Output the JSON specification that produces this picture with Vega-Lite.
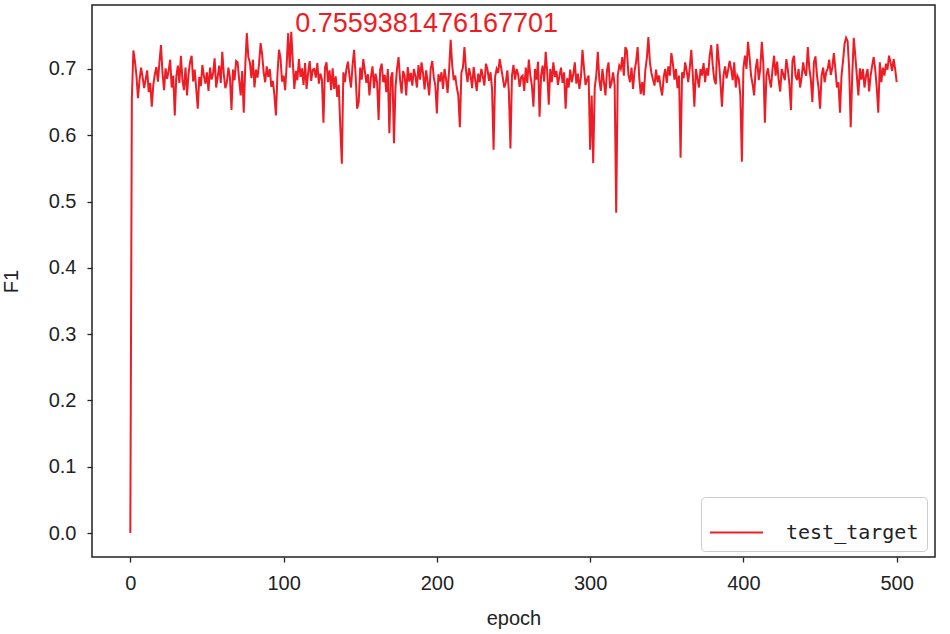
{
  "$schema": "https://vega.github.io/schema/vega-lite/v6.json",
  "width": 843,
  "height": 552,
  "autosize": {"type": "none"},
  "padding": {"left": 92, "top": 5, "right": 15, "bottom": 77},
  "background": "white",
  "config": {
    "view": {"stroke": "#222", "strokeWidth": 1.5},
    "axis": {
      "grid": false,
      "domain": false,
      "tickColor": "#222",
      "tickWidth": 1.3,
      "tickSize": 5,
      "labelFont": "Liberation Sans",
      "labelFontSize": 20,
      "labelColor": "#222",
      "titleFont": "Liberation Sans",
      "titleFontSize": 20,
      "titleFontWeight": "normal",
      "titleColor": "#222"
    },
    "legend": {
      "labelFont": "DejaVu Sans Mono",
      "labelFontSize": 20,
      "labelColor": "#222"
    }
  },
  "layer": [
    {
      "data": {"values": [
{"epoch":0,"f1":0.000},{"epoch":1,"f1":0.655},{"epoch":2,"f1":0.728},{"epoch":3,"f1":0.712},{"epoch":4,"f1":0.690},{"epoch":5,"f1":0.656},{"epoch":6,"f1":0.683},{"epoch":7,"f1":0.702},{"epoch":8,"f1":0.688},{"epoch":9,"f1":0.671},
{"epoch":10,"f1":0.684},{"epoch":11,"f1":0.698},{"epoch":12,"f1":0.665},{"epoch":13,"f1":0.679},{"epoch":14,"f1":0.643},{"epoch":15,"f1":0.676},{"epoch":16,"f1":0.692},{"epoch":17,"f1":0.703},{"epoch":18,"f1":0.681},{"epoch":19,"f1":0.710},
{"epoch":20,"f1":0.736},{"epoch":21,"f1":0.694},{"epoch":22,"f1":0.668},{"epoch":23,"f1":0.701},{"epoch":24,"f1":0.685},{"epoch":25,"f1":0.697},{"epoch":26,"f1":0.714},{"epoch":27,"f1":0.672},{"epoch":28,"f1":0.690},{"epoch":29,"f1":0.630},
{"epoch":30,"f1":0.688},{"epoch":31,"f1":0.705},{"epoch":32,"f1":0.679},{"epoch":33,"f1":0.720},{"epoch":34,"f1":0.684},{"epoch":35,"f1":0.668},{"epoch":36,"f1":0.702},{"epoch":37,"f1":0.660},{"epoch":38,"f1":0.693},{"epoch":39,"f1":0.711},
{"epoch":40,"f1":0.720},{"epoch":41,"f1":0.681},{"epoch":42,"f1":0.699},{"epoch":43,"f1":0.670},{"epoch":44,"f1":0.640},{"epoch":45,"f1":0.688},{"epoch":46,"f1":0.674},{"epoch":47,"f1":0.706},{"epoch":48,"f1":0.690},{"epoch":49,"f1":0.678},
{"epoch":50,"f1":0.695},{"epoch":51,"f1":0.667},{"epoch":52,"f1":0.702},{"epoch":53,"f1":0.684},{"epoch":54,"f1":0.693},{"epoch":55,"f1":0.716},{"epoch":56,"f1":0.672},{"epoch":57,"f1":0.688},{"epoch":58,"f1":0.705},{"epoch":59,"f1":0.679},
{"epoch":60,"f1":0.726},{"epoch":61,"f1":0.692},{"epoch":62,"f1":0.671},{"epoch":63,"f1":0.680},{"epoch":64,"f1":0.702},{"epoch":65,"f1":0.687},{"epoch":66,"f1":0.638},{"epoch":67,"f1":0.699},{"epoch":68,"f1":0.683},{"epoch":69,"f1":0.712},
{"epoch":70,"f1":0.710},{"epoch":71,"f1":0.684},{"epoch":72,"f1":0.660},{"epoch":73,"f1":0.697},{"epoch":74,"f1":0.634},{"epoch":75,"f1":0.705},{"epoch":76,"f1":0.754},{"epoch":77,"f1":0.718},{"epoch":78,"f1":0.710},{"epoch":79,"f1":0.686},
{"epoch":80,"f1":0.714},{"epoch":81,"f1":0.672},{"epoch":82,"f1":0.699},{"epoch":83,"f1":0.687},{"epoch":84,"f1":0.708},{"epoch":85,"f1":0.739},{"epoch":86,"f1":0.722},{"epoch":87,"f1":0.695},{"epoch":88,"f1":0.680},{"epoch":89,"f1":0.704},
{"epoch":90,"f1":0.688},{"epoch":91,"f1":0.700},{"epoch":92,"f1":0.673},{"epoch":93,"f1":0.682},{"epoch":94,"f1":0.661},{"epoch":95,"f1":0.630},{"epoch":96,"f1":0.692},{"epoch":97,"f1":0.729},{"epoch":98,"f1":0.716},{"epoch":99,"f1":0.681},
{"epoch":100,"f1":0.690},{"epoch":101,"f1":0.668},{"epoch":102,"f1":0.706},{"epoch":103,"f1":0.754},{"epoch":104,"f1":0.702},{"epoch":105,"f1":0.7559381476167701},{"epoch":106,"f1":0.711},{"epoch":107,"f1":0.670},{"epoch":108,"f1":0.697},{"epoch":109,"f1":0.683},
{"epoch":110,"f1":0.715},{"epoch":111,"f1":0.688},{"epoch":112,"f1":0.701},{"epoch":113,"f1":0.676},{"epoch":114,"f1":0.709},{"epoch":115,"f1":0.670},{"epoch":116,"f1":0.694},{"epoch":117,"f1":0.712},{"epoch":118,"f1":0.682},{"epoch":119,"f1":0.699},
{"epoch":120,"f1":0.700},{"epoch":121,"f1":0.687},{"epoch":122,"f1":0.709},{"epoch":123,"f1":0.678},{"epoch":124,"f1":0.693},{"epoch":125,"f1":0.684},{"epoch":126,"f1":0.619},{"epoch":127,"f1":0.702},{"epoch":128,"f1":0.710},{"epoch":129,"f1":0.680},
{"epoch":130,"f1":0.698},{"epoch":131,"f1":0.668},{"epoch":132,"f1":0.701},{"epoch":133,"f1":0.670},{"epoch":134,"f1":0.689},{"epoch":135,"f1":0.658},{"epoch":136,"f1":0.676},{"epoch":137,"f1":0.612},{"epoch":138,"f1":0.557},{"epoch":139,"f1":0.695},
{"epoch":140,"f1":0.680},{"epoch":141,"f1":0.700},{"epoch":142,"f1":0.711},{"epoch":143,"f1":0.689},{"epoch":144,"f1":0.672},{"epoch":145,"f1":0.706},{"epoch":146,"f1":0.729},{"epoch":147,"f1":0.690},{"epoch":148,"f1":0.640},{"epoch":149,"f1":0.650},
{"epoch":150,"f1":0.702},{"epoch":151,"f1":0.684},{"epoch":152,"f1":0.715},{"epoch":153,"f1":0.697},{"epoch":154,"f1":0.679},{"epoch":155,"f1":0.692},{"epoch":156,"f1":0.660},{"epoch":157,"f1":0.688},{"epoch":158,"f1":0.704},{"epoch":159,"f1":0.671},
{"epoch":160,"f1":0.693},{"epoch":161,"f1":0.680},{"epoch":162,"f1":0.623},{"epoch":163,"f1":0.699},{"epoch":164,"f1":0.708},{"epoch":165,"f1":0.680},{"epoch":166,"f1":0.691},{"epoch":167,"f1":0.665},{"epoch":168,"f1":0.700},{"epoch":169,"f1":0.603},
{"epoch":170,"f1":0.687},{"epoch":171,"f1":0.695},{"epoch":172,"f1":0.588},{"epoch":173,"f1":0.672},{"epoch":174,"f1":0.700},{"epoch":175,"f1":0.718},{"epoch":176,"f1":0.684},{"epoch":177,"f1":0.663},{"epoch":178,"f1":0.697},{"epoch":179,"f1":0.690},
{"epoch":180,"f1":0.660},{"epoch":181,"f1":0.703},{"epoch":182,"f1":0.681},{"epoch":183,"f1":0.694},{"epoch":184,"f1":0.675},{"epoch":185,"f1":0.700},{"epoch":186,"f1":0.689},{"epoch":187,"f1":0.672},{"epoch":188,"f1":0.706},{"epoch":189,"f1":0.684},
{"epoch":190,"f1":0.710},{"epoch":191,"f1":0.693},{"epoch":192,"f1":0.669},{"epoch":193,"f1":0.698},{"epoch":194,"f1":0.680},{"epoch":195,"f1":0.660},{"epoch":196,"f1":0.701},{"epoch":197,"f1":0.712},{"epoch":198,"f1":0.687},{"epoch":199,"f1":0.675},
{"epoch":200,"f1":0.633},{"epoch":201,"f1":0.692},{"epoch":202,"f1":0.681},{"epoch":203,"f1":0.695},{"epoch":204,"f1":0.670},{"epoch":205,"f1":0.700},{"epoch":206,"f1":0.685},{"epoch":207,"f1":0.664},{"epoch":208,"f1":0.698},{"epoch":209,"f1":0.744},
{"epoch":210,"f1":0.706},{"epoch":211,"f1":0.683},{"epoch":212,"f1":0.690},{"epoch":213,"f1":0.672},{"epoch":214,"f1":0.660},{"epoch":215,"f1":0.612},{"epoch":216,"f1":0.694},{"epoch":217,"f1":0.702},{"epoch":218,"f1":0.733},{"epoch":219,"f1":0.698},
{"epoch":220,"f1":0.680},{"epoch":221,"f1":0.701},{"epoch":222,"f1":0.690},{"epoch":223,"f1":0.671},{"epoch":224,"f1":0.703},{"epoch":225,"f1":0.684},{"epoch":226,"f1":0.667},{"epoch":227,"f1":0.693},{"epoch":228,"f1":0.680},{"epoch":229,"f1":0.700},
{"epoch":230,"f1":0.689},{"epoch":231,"f1":0.675},{"epoch":232,"f1":0.708},{"epoch":233,"f1":0.700},{"epoch":234,"f1":0.682},{"epoch":235,"f1":0.695},{"epoch":236,"f1":0.670},{"epoch":237,"f1":0.578},{"epoch":238,"f1":0.688},{"epoch":239,"f1":0.700},
{"epoch":240,"f1":0.694},{"epoch":241,"f1":0.715},{"epoch":242,"f1":0.701},{"epoch":243,"f1":0.687},{"epoch":244,"f1":0.672},{"epoch":245,"f1":0.680},{"epoch":246,"f1":0.698},{"epoch":247,"f1":0.665},{"epoch":248,"f1":0.580},{"epoch":249,"f1":0.690},
{"epoch":250,"f1":0.706},{"epoch":251,"f1":0.684},{"epoch":252,"f1":0.700},{"epoch":253,"f1":0.692},{"epoch":254,"f1":0.673},{"epoch":255,"f1":0.688},{"epoch":256,"f1":0.690},{"epoch":257,"f1":0.667},{"epoch":258,"f1":0.702},{"epoch":259,"f1":0.679},
{"epoch":260,"f1":0.714},{"epoch":261,"f1":0.690},{"epoch":262,"f1":0.675},{"epoch":263,"f1":0.643},{"epoch":264,"f1":0.700},{"epoch":265,"f1":0.684},{"epoch":266,"f1":0.711},{"epoch":267,"f1":0.628},{"epoch":268,"f1":0.690},{"epoch":269,"f1":0.705},
{"epoch":270,"f1":0.681},{"epoch":271,"f1":0.726},{"epoch":272,"f1":0.695},{"epoch":273,"f1":0.646},{"epoch":274,"f1":0.700},{"epoch":275,"f1":0.680},{"epoch":276,"f1":0.710},{"epoch":277,"f1":0.688},{"epoch":278,"f1":0.697},{"epoch":279,"f1":0.676},
{"epoch":280,"f1":0.690},{"epoch":281,"f1":0.702},{"epoch":282,"f1":0.679},{"epoch":283,"f1":0.695},{"epoch":284,"f1":0.640},{"epoch":285,"f1":0.686},{"epoch":286,"f1":0.672},{"epoch":287,"f1":0.699},{"epoch":288,"f1":0.680},{"epoch":289,"f1":0.692},
{"epoch":290,"f1":0.710},{"epoch":291,"f1":0.678},{"epoch":292,"f1":0.693},{"epoch":293,"f1":0.670},{"epoch":294,"f1":0.688},{"epoch":295,"f1":0.729},{"epoch":296,"f1":0.701},{"epoch":297,"f1":0.676},{"epoch":298,"f1":0.684},{"epoch":299,"f1":0.690},
{"epoch":300,"f1":0.578},{"epoch":301,"f1":0.660},{"epoch":302,"f1":0.558},{"epoch":303,"f1":0.672},{"epoch":304,"f1":0.690},{"epoch":305,"f1":0.726},{"epoch":306,"f1":0.683},{"epoch":307,"f1":0.667},{"epoch":308,"f1":0.700},{"epoch":309,"f1":0.680},
{"epoch":310,"f1":0.660},{"epoch":311,"f1":0.698},{"epoch":312,"f1":0.710},{"epoch":313,"f1":0.671},{"epoch":314,"f1":0.680},{"epoch":315,"f1":0.695},{"epoch":316,"f1":0.675},{"epoch":317,"f1":0.483},{"epoch":318,"f1":0.690},{"epoch":319,"f1":0.705},
{"epoch":320,"f1":0.700},{"epoch":321,"f1":0.718},{"epoch":322,"f1":0.690},{"epoch":323,"f1":0.733},{"epoch":324,"f1":0.727},{"epoch":325,"f1":0.691},{"epoch":326,"f1":0.680},{"epoch":327,"f1":0.702},{"epoch":328,"f1":0.670},{"epoch":329,"f1":0.697},
{"epoch":330,"f1":0.711},{"epoch":331,"f1":0.733},{"epoch":332,"f1":0.688},{"epoch":333,"f1":0.662},{"epoch":334,"f1":0.680},{"epoch":335,"f1":0.660},{"epoch":336,"f1":0.698},{"epoch":337,"f1":0.716},{"epoch":338,"f1":0.748},{"epoch":339,"f1":0.710},
{"epoch":340,"f1":0.694},{"epoch":341,"f1":0.684},{"epoch":342,"f1":0.675},{"epoch":343,"f1":0.699},{"epoch":344,"f1":0.680},{"epoch":345,"f1":0.690},{"epoch":346,"f1":0.672},{"epoch":347,"f1":0.660},{"epoch":348,"f1":0.688},{"epoch":349,"f1":0.700},
{"epoch":350,"f1":0.679},{"epoch":351,"f1":0.704},{"epoch":352,"f1":0.690},{"epoch":353,"f1":0.724},{"epoch":354,"f1":0.708},{"epoch":355,"f1":0.684},{"epoch":356,"f1":0.700},{"epoch":357,"f1":0.671},{"epoch":358,"f1":0.690},{"epoch":359,"f1":0.566},
{"epoch":360,"f1":0.695},{"epoch":361,"f1":0.686},{"epoch":362,"f1":0.710},{"epoch":363,"f1":0.697},{"epoch":364,"f1":0.680},{"epoch":365,"f1":0.702},{"epoch":366,"f1":0.729},{"epoch":367,"f1":0.690},{"epoch":368,"f1":0.643},{"epoch":369,"f1":0.700},
{"epoch":370,"f1":0.686},{"epoch":371,"f1":0.672},{"epoch":372,"f1":0.700},{"epoch":373,"f1":0.690},{"epoch":374,"f1":0.709},{"epoch":375,"f1":0.680},{"epoch":376,"f1":0.701},{"epoch":377,"f1":0.690},{"epoch":378,"f1":0.720},{"epoch":379,"f1":0.736},
{"epoch":380,"f1":0.705},{"epoch":381,"f1":0.684},{"epoch":382,"f1":0.677},{"epoch":383,"f1":0.738},{"epoch":384,"f1":0.712},{"epoch":385,"f1":0.680},{"epoch":386,"f1":0.643},{"epoch":387,"f1":0.690},{"epoch":388,"f1":0.704},{"epoch":389,"f1":0.686},
{"epoch":390,"f1":0.698},{"epoch":391,"f1":0.712},{"epoch":392,"f1":0.700},{"epoch":393,"f1":0.683},{"epoch":394,"f1":0.710},{"epoch":395,"f1":0.672},{"epoch":396,"f1":0.690},{"epoch":397,"f1":0.685},{"epoch":398,"f1":0.660},{"epoch":399,"f1":0.560},
{"epoch":400,"f1":0.701},{"epoch":401,"f1":0.720},{"epoch":402,"f1":0.700},{"epoch":403,"f1":0.741},{"epoch":404,"f1":0.718},{"epoch":405,"f1":0.690},{"epoch":406,"f1":0.677},{"epoch":407,"f1":0.660},{"epoch":408,"f1":0.700},{"epoch":409,"f1":0.715},
{"epoch":410,"f1":0.683},{"epoch":411,"f1":0.700},{"epoch":412,"f1":0.741},{"epoch":413,"f1":0.708},{"epoch":414,"f1":0.619},{"epoch":415,"f1":0.690},{"epoch":416,"f1":0.701},{"epoch":417,"f1":0.684},{"epoch":418,"f1":0.672},{"epoch":419,"f1":0.700},
{"epoch":420,"f1":0.720},{"epoch":421,"f1":0.690},{"epoch":422,"f1":0.711},{"epoch":423,"f1":0.683},{"epoch":424,"f1":0.666},{"epoch":425,"f1":0.700},{"epoch":426,"f1":0.692},{"epoch":427,"f1":0.683},{"epoch":428,"f1":0.715},{"epoch":429,"f1":0.699},
{"epoch":430,"f1":0.677},{"epoch":431,"f1":0.638},{"epoch":432,"f1":0.712},{"epoch":433,"f1":0.720},{"epoch":434,"f1":0.690},{"epoch":435,"f1":0.683},{"epoch":436,"f1":0.700},{"epoch":437,"f1":0.672},{"epoch":438,"f1":0.688},{"epoch":439,"f1":0.710},
{"epoch":440,"f1":0.695},{"epoch":441,"f1":0.690},{"epoch":442,"f1":0.733},{"epoch":443,"f1":0.701},{"epoch":444,"f1":0.684},{"epoch":445,"f1":0.650},{"epoch":446,"f1":0.710},{"epoch":447,"f1":0.719},{"epoch":448,"f1":0.690},{"epoch":449,"f1":0.672},
{"epoch":450,"f1":0.640},{"epoch":451,"f1":0.690},{"epoch":452,"f1":0.702},{"epoch":453,"f1":0.680},{"epoch":454,"f1":0.695},{"epoch":455,"f1":0.700},{"epoch":456,"f1":0.714},{"epoch":457,"f1":0.691},{"epoch":458,"f1":0.702},{"epoch":459,"f1":0.724},
{"epoch":460,"f1":0.700},{"epoch":461,"f1":0.672},{"epoch":462,"f1":0.680},{"epoch":463,"f1":0.634},{"epoch":464,"f1":0.690},{"epoch":465,"f1":0.712},{"epoch":466,"f1":0.738},{"epoch":467,"f1":0.747},{"epoch":468,"f1":0.742},{"epoch":469,"f1":0.700},
{"epoch":470,"f1":0.612},{"epoch":471,"f1":0.690},{"epoch":472,"f1":0.747},{"epoch":473,"f1":0.720},{"epoch":474,"f1":0.690},{"epoch":475,"f1":0.660},{"epoch":476,"f1":0.701},{"epoch":477,"f1":0.684},{"epoch":478,"f1":0.700},{"epoch":479,"f1":0.672},
{"epoch":480,"f1":0.690},{"epoch":481,"f1":0.700},{"epoch":482,"f1":0.666},{"epoch":483,"f1":0.690},{"epoch":484,"f1":0.705},{"epoch":485,"f1":0.718},{"epoch":486,"f1":0.699},{"epoch":487,"f1":0.672},{"epoch":488,"f1":0.634},{"epoch":489,"f1":0.710},
{"epoch":490,"f1":0.680},{"epoch":491,"f1":0.702},{"epoch":492,"f1":0.690},{"epoch":493,"f1":0.708},{"epoch":494,"f1":0.699},{"epoch":495,"f1":0.720},{"epoch":496,"f1":0.710},{"epoch":497,"f1":0.697},{"epoch":498,"f1":0.715},{"epoch":499,"f1":0.700},
{"epoch":500,"f1":0.680}
      ]},
      "mark": {"type": "line", "strokeWidth": 2, "clip": true},
      "encoding": {
        "x": {
          "field": "epoch",
          "type": "quantitative",
          "scale": {"domain": [-25, 525], "nice": false, "zero": false},
          "axis": {"values": [0, 100, 200, 300, 400, 500], "title": "epoch", "labelPadding": 11, "titlePadding": 15, "format": "d"}
        },
        "y": {
          "field": "f1",
          "type": "quantitative",
          "scale": {"domain": [-0.0362, 0.7965], "nice": false, "zero": false},
          "axis": {"values": [0, 0.1, 0.2, 0.3, 0.4, 0.5, 0.6, 0.7], "format": ".1f", "title": "F1", "labelPadding": 11, "titlePadding": 27}
        },
        "color": {
          "datum": "test_target",
          "type": "nominal",
          "scale": {"range": ["#ee1c24"]},
          "legend": {
            "title": null,
            "orient": "none",
            "legendX": 609,
            "legendY": 492,
            "padding": 8,
            "symbolType": "stroke",
            "symbolSize": 2809,
            "symbolStrokeWidth": 2,
            "labelOffset": 22,
            "fillColor": "white",
            "strokeColor": "#cccccc",
            "cornerRadius": 4
          }
        }
      }
    },
    {
      "data": {"values": [{"epoch": 105, "f1": 0.7559381476167701, "label": "0.7559381476167701"}]},
      "mark": {"type": "text", "align": "left", "baseline": "alphabetic", "font": "Liberation Sans", "fontSize": 27, "color": "#ee1c24", "dx": 4},
      "encoding": {
        "x": {"field": "epoch", "type": "quantitative"},
        "y": {"field": "f1", "type": "quantitative"},
        "text": {"field": "label", "type": "nominal"}
      }
    }
  ]
}
